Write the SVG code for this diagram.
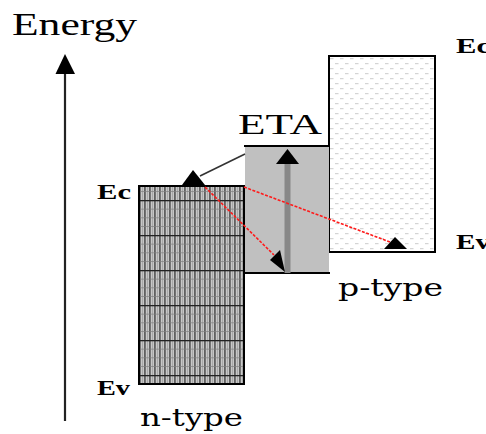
<svg xmlns="http://www.w3.org/2000/svg" width="486" height="434" viewBox="0 0 486 434">
<style>
.serif{font-family:"Liberation Serif","Times New Roman",serif;fill:#000}
.lbl{font-family:"DejaVu Serif","Liberation Serif",serif;fill:#000}
.red{stroke:#ff1a1a;stroke-width:1.6;stroke-dasharray:3 1.5;fill:none}
</style>
<defs>
<pattern id="npat" patternUnits="userSpaceOnUse" x="139" y="200" width="5" height="35">
<rect width="5" height="35" fill="#c8c8c8"/>
<rect x="0" y="0" width="1.8" height="35" fill="#606060"/>
<rect x="3.2" y="0" width="0.8" height="35" fill="#a0a0a0"/>
<rect x="0" y="0" width="5" height="1.3" fill="#222"/>
<rect x="0" y="8.75" width="5" height="0.7" fill="#808080"/>
<rect x="0" y="17.5" width="5" height="0.7" fill="#808080"/>
<rect x="0" y="26.25" width="5" height="0.7" fill="#808080"/>
</pattern>
<pattern id="ppat" patternUnits="userSpaceOnUse" x="329" y="56" width="10" height="10">
<rect width="10" height="10" fill="#fff"/>
<rect x="1" y="2" width="3.5" height="1.2" fill="#d4d4d4"/>
<rect x="6" y="7" width="3.5" height="1.2" fill="#d4d4d4"/>
</pattern>
</defs>

<g id="energy-axis">
<text class="serif" x="12" y="35" font-size="32" textLength="125" lengthAdjust="spacingAndGlyphs">Energy</text>
<line x1="65" y1="70" x2="65" y2="421" stroke="#222" stroke-width="2.2"/>
<polygon points="65,54 55.5,74 75,74" fill="#000"/>
</g>

<g id="p-type">
<rect x="329" y="56" width="106" height="196" fill="url(#ppat)" stroke="#000" stroke-width="2"/>
<text class="serif" x="456" y="53" font-size="20" font-weight="bold" textLength="34" lengthAdjust="spacingAndGlyphs">Ec</text>
<text class="serif" x="456" y="249" font-size="20" font-weight="bold" textLength="34" lengthAdjust="spacingAndGlyphs">Ev</text>
<text class="lbl" x="338" y="296" font-size="24" textLength="105" lengthAdjust="spacingAndGlyphs">p-type</text>
</g>

<g id="n-type">
<rect x="139" y="186" width="105" height="198" fill="url(#npat)" stroke="#000" stroke-width="2"/>
<text class="serif" x="97" y="199" font-size="20" font-weight="bold" textLength="34" lengthAdjust="spacingAndGlyphs">Ec</text>
<text class="serif" x="97" y="395" font-size="20" font-weight="bold" textLength="33" lengthAdjust="spacingAndGlyphs">Ev</text>
<text class="lbl" x="140" y="426" font-size="24" textLength="103" lengthAdjust="spacingAndGlyphs">n-type</text>
</g>

<g id="eta">
<rect x="245" y="146" width="84" height="127" fill="#c0c0c0"/>
<line x1="244" y1="146" x2="330" y2="146" stroke="#000" stroke-width="2"/>
<line x1="244" y1="273" x2="330" y2="273" stroke="#000" stroke-width="2"/>
<text class="serif" x="238" y="134" font-size="30" textLength="84" lengthAdjust="spacingAndGlyphs">ETA</text>
</g>

<g id="connectors">
<line x1="287.5" y1="162" x2="287.5" y2="273" stroke="#888" stroke-width="6"/>
<polygon points="287.5,149 276,164 299,164" fill="#000"/>
<line x1="245" y1="154" x2="200" y2="176" stroke="#333" stroke-width="1.6"/>
<polygon points="193,170 182,185 205,185" fill="#000"/>
<line class="red" x1="205" y1="187" x2="274" y2="255"/>
<polygon points="270,260 280,250 285,272" fill="#000"/>
<line class="red" x1="244" y1="187" x2="390" y2="242"/>
<polygon points="395,237 384,249 407,249" fill="#000"/>
</g>
</svg>
